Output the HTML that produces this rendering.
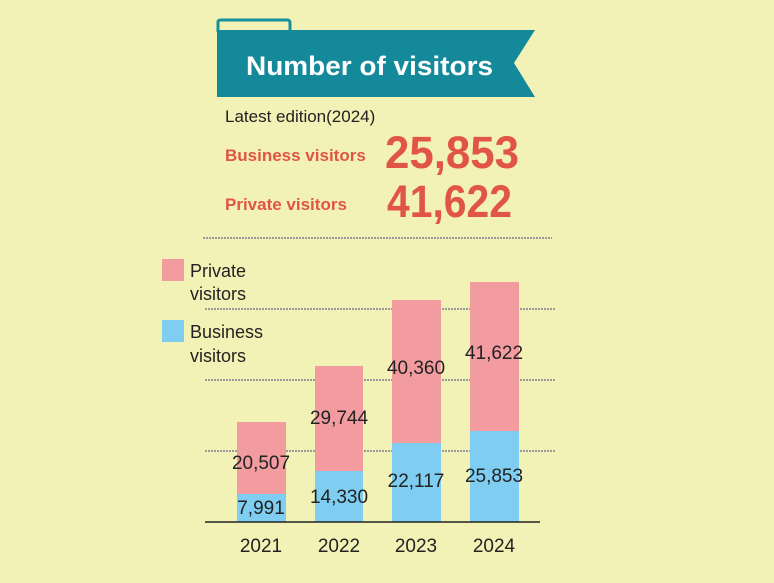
<!DOCTYPE html>
<html><head><style>
body{margin:0;background:#f2f2b6;}
svg{display:block}
text{font-family:"Liberation Sans",sans-serif;}
</style></head><body>
<svg width="774" height="583" viewBox="0 0 774 583">
<rect width="774" height="583" fill="#f2f2b6"/>
<path d="M218 32 V22 Q218 20 221 20 H287 Q290 20 290 23 V32" fill="none" stroke="#16909b" stroke-width="3"/>
<path d="M217 30 H535 L514 63 L535 97 H217 Z" fill="#13899a"/>
<text x="246" y="75" fill="#fff" font-size="27" font-weight="bold" textLength="247" lengthAdjust="spacingAndGlyphs">Number of visitors</text>
<text x="225" y="122" fill="#222" font-size="17">Latest edition(2024)</text>
<text x="225" y="161" fill="#e05545" font-size="17" font-weight="bold">Business visitors</text>
<text x="385" y="168" fill="#e05545" font-size="45" font-weight="bold" textLength="134" lengthAdjust="spacingAndGlyphs">25,853</text>
<text x="225" y="210" fill="#e05545" font-size="17" font-weight="bold">Private visitors</text>
<text x="387" y="217" fill="#e05545" font-size="45" font-weight="bold" textLength="125" lengthAdjust="spacingAndGlyphs">41,622</text>
<g stroke="#999" stroke-width="2" stroke-dasharray="2,1">
<line x1="203" y1="238" x2="552" y2="238"/>
<line x1="205" y1="309" x2="555" y2="309"/>
<line x1="205" y1="380" x2="555" y2="380"/>
<line x1="205" y1="451" x2="555" y2="451"/>
</g>
<rect x="162" y="259" width="22" height="22" fill="#f29ca0"/>
<rect x="162" y="320" width="22" height="22" fill="#7fcdf0"/>
<g font-size="18" fill="#222">
<text x="190" y="277">Private</text><text x="190" y="300">visitors</text>
<text x="190" y="338">Business</text><text x="190" y="362">visitors</text>
</g>
<rect x="237" y="422" width="49" height="100" fill="#f29ca0"/>
<rect x="237" y="494" width="49" height="28" fill="#7fcdf0"/>
<rect x="315" y="366" width="48" height="156" fill="#f29ca0"/>
<rect x="315" y="471" width="48" height="51" fill="#7fcdf0"/>
<rect x="392" y="300" width="49" height="222" fill="#f29ca0"/>
<rect x="392" y="443" width="49" height="79" fill="#7fcdf0"/>
<rect x="470" y="282" width="49" height="240" fill="#f29ca0"/>
<rect x="470" y="431" width="49" height="91" fill="#7fcdf0"/>
<line x1="205" y1="522" x2="540" y2="522" stroke="#222" stroke-width="1.5"/>
<g font-size="19" fill="#222" text-anchor="middle">
<text x="261" y="469">20,507</text><text x="261" y="514">7,991</text>
<text x="339" y="424">29,744</text><text x="339" y="503">14,330</text>
<text x="416" y="374">40,360</text><text x="416" y="487">22,117</text>
<text x="494" y="359">41,622</text><text x="494" y="482">25,853</text>
<text x="261" y="552">2021</text><text x="339" y="552">2022</text>
<text x="416" y="552">2023</text><text x="494" y="552">2024</text>
</g>
</svg>
</body></html>
